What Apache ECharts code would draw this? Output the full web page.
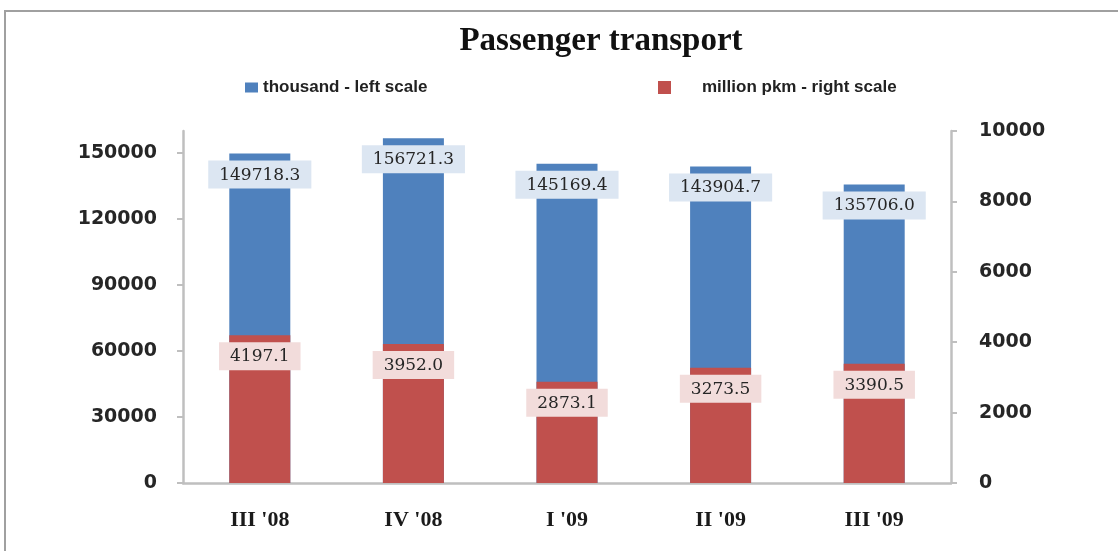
<!DOCTYPE html>
<html>
<head>
<meta charset="utf-8">
<title>Passenger transport</title>
<script src="https://cdn.jsdelivr.net/npm/echarts@6/dist/echarts.min.js"></script>
<style>
  html, body { margin: 0; padding: 0; background: #fff; }
  #chart { width: 1118px; height: 551px; }
</style>
</head>
<body>
<div id="chart"></div>
<script>
// quarters on the x axis
const quarters = ["III '08", "IV '08", "I '09", "II '09", "III '09"];
// thousand passengers, left scale
const passengers = [149718.3, 156721.3, 145169.4, 143904.7, 135706.0];
// million pkm, right scale
const pkm = [4197.1, 3952.0, 2873.1, 3273.5, 3390.5];
// tick labels
const leftTicks = [0, 30000, 60000, 90000, 120000, 150000];
const rightTicks = [0, 2000, 4000, 6000, 8000, 10000];

const names = ["thousand - left scale", "million pkm - right scale"];
const colorList = ["#4f81bd", "#c0504d"];

let chartElem = echarts.init(document.getElementById("chart"));

let axisLineStyle = { color: "#bfbfbf", width: 2.5 };
let tickLabelStyle = {
  fontFamily: "DejaVu Sans",
  fontWeight: "bold",
  fontSize: 19,
  color: "#262626",
  formatter: v => String(v)
};
let barLabel = bg => ({
  show: true,
  position: "insideTop",
  distance: 7,
  formatter: p => p.value.toFixed(1),
  fontFamily: "DejaVu Serif",
  fontSize: 17,
  color: "#262626",
  backgroundColor: bg,
  padding: [6, 11, 5, 11]
});
let legendText = {
  fontFamily: "Liberation Sans",
  fontWeight: "bold",
  fontSize: 17,
  color: "#222"
};

let option = {
  animation: false,
  title: {
    text: "Passenger transport",
    left: 596,
    textAlign: "center",
    top: 20,
    textStyle: {
      fontFamily: "Liberation Serif",
      fontWeight: "bold",
      fontSize: 33,
      color: "#111"
    }
  },
  legend: [
    {
      left: 240,
      top: 74,
      icon: "rect",
      itemWidth: 13,
      itemHeight: 10,
      data: [names[0]],
      textStyle: legendText
    },
    {
      left: 653,
      top: 74,
      icon: "rect",
      itemWidth: 13,
      itemHeight: 13,
      data: [names[1]],
      textStyle: { ...legendText, padding: [0, 0, 0, 26] }
    }
  ],
  graphic: [
    {
      type: "rect",
      silent: true,
      shape: { x: 5, y: 11, width: 1200, height: 600 },
      style: { fill: "none", stroke: "#a0a0a0", lineWidth: 2 }
    }
  ],
  grid: {
    left: 183,
    right: 167,
    top: 131,
    bottom: 68
  },
  xAxis: {
    type: "category",
    data: quarters,
    axisLine: { lineStyle: axisLineStyle },
    axisTick: { show: false },
    axisLabel: {
      margin: 26,
      fontFamily: "Liberation Serif",
      fontWeight: "bold",
      fontSize: 22,
      color: "#1a1a1a"
    }
  },
  yAxis: [
    {
      type: "value",
      min: 0,
      max: 160000,
      position: "left",
      splitLine: { show: false },
      axisLine: { show: true, lineStyle: axisLineStyle },
      axisTick: {
        show: true,
        length: 6,
        customValues: leftTicks,
        lineStyle: { color: "#bfbfbf", width: 2 }
      },
      axisLabel: {
        margin: 26,
        customValues: leftTicks,
        ...tickLabelStyle
      }
    },
    {
      type: "value",
      min: 0,
      max: 10000,
      interval: 2000,
      position: "right",
      splitLine: { show: false },
      axisLine: { show: true, lineStyle: axisLineStyle },
      axisTick: {
        show: true,
        length: 6,
        customValues: rightTicks,
        lineStyle: { color: "#bfbfbf", width: 2 }
      },
      axisLabel: {
        margin: 28,
        customValues: rightTicks,
        ...tickLabelStyle
      }
    }
  ],
  series: [
    {
      name: names[0],
      type: "bar",
      yAxisIndex: 0,
      data: passengers,
      barWidth: 61,
      barGap: "-100%",
      itemStyle: { color: colorList[0] },
      label: barLabel("#dce6f2"),
      z: 2
    },
    {
      name: names[1],
      type: "bar",
      yAxisIndex: 1,
      data: pkm,
      barWidth: 61,
      barGap: "-100%",
      itemStyle: { color: colorList[1] },
      label: barLabel("#f2dcdb"),
      z: 3
    }
  ]
};

chartElem.setOption(option);
</script>
</body>
</html>
